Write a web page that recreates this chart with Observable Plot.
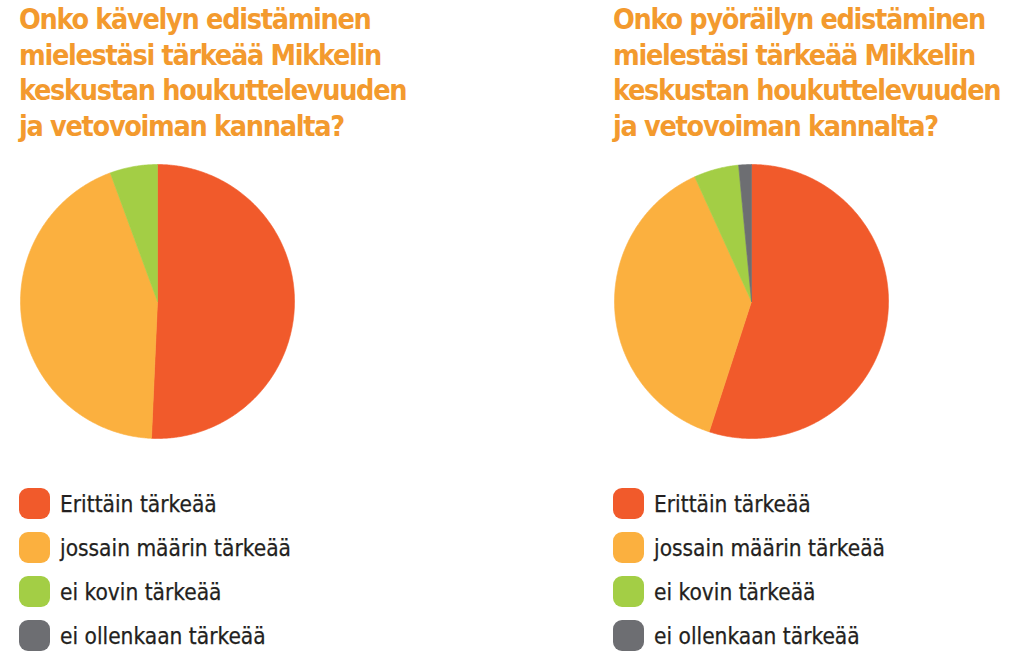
<!DOCTYPE html>
<html>
<head>
<meta charset="utf-8">
<script src="https://cdn.jsdelivr.net/npm/d3@7"></script>
<script src="https://cdn.jsdelivr.net/npm/@observablehq/plot@0.6"></script>
<style>
  html, body { margin: 0; padding: 0; background: #fff; }
  body { width: 1024px; height: 657px; position: relative; overflow: hidden; font-family: "DejaVu Sans Condensed", "DejaVu Sans", sans-serif; }
  .panel { position: absolute; top: 0; width: 410px; height: 657px; }
  .title { position: absolute; left: 0; top: 2px; color: #F39A2E; font-weight: bold; font-size: 28.5px; letter-spacing: -1.3px; line-height: 35.5px; white-space: nowrap; }
  .pie { position: absolute; }
  .legend { position: absolute; left: 0; top: 488px; }
  .row { display: flex; align-items: center; height: 31px; margin-bottom: 13px; }
  .sw { width: 31px; height: 31px; border-radius: 9px; margin-right: 10px; flex: none; }
  .lab { font-size: 22.5px; color: #231F20; white-space: nowrap; -webkit-text-stroke: 0.25px #231F20; }
</style>
</head>
<body>
<script>
const categories = ["Erittäin tärkeää", "jossain määrin tärkeää", "ei kovin tärkeää", "ei ollenkaan tärkeää"];
const colors = ["#F15A2B", "#FBB03F", "#A3CE45", "#6D6E72"];
const walkingValues = [50.7, 43.7, 5.6, 0];
const cyclingValues = [55.0, 38.2, 5.3, 1.5];
const titleWalking = ["Onko kävelyn edistäminen", "mielestäsi tärkeää Mikkelin", "keskustan houkuttelevuuden", "ja vetovoiman kannalta?"];
const titleCycling = ["Onko pyöräilyn edistäminen", "mielestäsi tärkeää Mikkelin", "keskustan houkuttelevuuden", "ja vetovoiman kannalta?"];

function slicePoints(values) {
  const arcs = d3.pie().sort(null).value(d => d)(values);
  const pts = [];
  arcs.forEach((a, i) => {
    if (values[i] <= 0) return;
    const cat = categories[i];
    pts.push({cat, x: 0, y: 0});
    const n = Math.max(2, Math.ceil((a.endAngle - a.startAngle) / (Math.PI / 360)));
    for (let k = 0; k <= n; k++) {
      const t = a.startAngle + (a.endAngle - a.startAngle) * k / n;
      pts.push({cat, x: Math.sin(t), y: Math.cos(t)});
    }
    pts.push({cat, x: 0, y: 0});
  });
  return pts;
}

function makePanel(left, titleLines, values) {
  const panel = document.createElement("div");
  panel.className = "panel";
  panel.style.left = left + "px";
  const title = document.createElement("div");
  title.className = "title";
  title.innerHTML = titleLines.join("<br>");
  panel.appendChild(title);

  const R = 137;
  const chart = Plot.plot({
    width: 2 * R + 2,
    height: 2 * R + 2,
    margin: 1,
    x: {domain: [-1, 1], axis: null},
    y: {domain: [-1, 1], axis: null},
    color: {domain: categories, range: colors},
    marks: [
      Plot.line(slicePoints(values), {x: "x", y: "y", z: "cat", fill: "cat", stroke: "cat", strokeWidth: 0.6, curve: "linear"})
    ]
  });
  const wrap = document.createElement("div");
  wrap.className = "pie";
  wrap.style.left = "0px";
  wrap.style.top = "163px";
  wrap.appendChild(chart);
  panel.appendChild(wrap);

  const legend = document.createElement("div");
  legend.className = "legend";
  categories.forEach((c, i) => {
    const row = document.createElement("div");
    row.className = "row";
    const sw = document.createElement("div");
    sw.className = "sw";
    sw.style.background = colors[i];
    const lab = document.createElement("span");
    lab.className = "lab";
    lab.textContent = c;
    row.appendChild(sw);
    row.appendChild(lab);
    legend.appendChild(row);
  });
  panel.appendChild(legend);
  document.body.appendChild(panel);
}

makePanel(19, titleWalking, walkingValues);
makePanel(613, titleCycling, cyclingValues);
</script>
</body>
</html>
